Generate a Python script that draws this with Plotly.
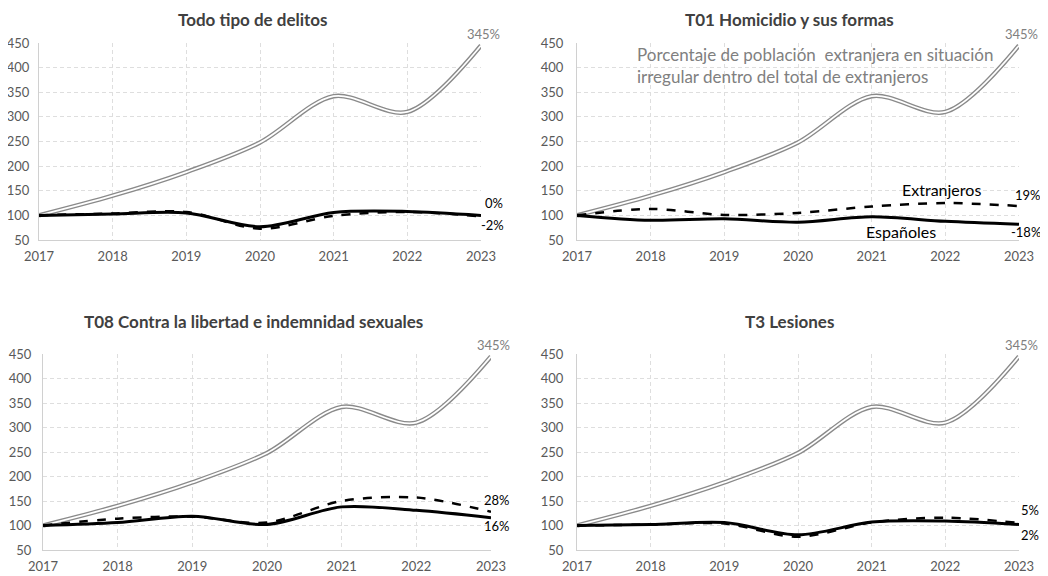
import plotly.graph_objects as go

years = [2017, 2018, 2019, 2020, 2021, 2022, 2023]
irregular = [100, 140, 188, 248, 342, 310, 445]

titles = ["Todo tipo de delitos", "T01 Homicidio y sus formas",
          "T08 Contra la libertad e indemnidad sexuales", "T3 Lesiones"]

extranjeros = [
    [100, 104, 107, 73, 99, 107, 98],
    [100, 113, 101, 105, 118, 125, 119],
    [100, 114, 118, 106, 150, 157, 128],
    [100, 102, 104, 77, 106, 116, 105],
]
espanoles = [
    [100, 103, 105, 77, 106, 108, 100],
    [100, 90, 93, 86, 97, 88, 82],
    [100, 106, 119, 102, 138, 131, 116],
    [100, 102, 106, 81, 107, 109, 102],
]
ext_labels = ["-2%", "19%", "28%", "5%"]
esp_labels = ["0%", "-18%", "16%", "2%"]
irr_label = "345%"
note_text = "Porcentaje de población  extranjera en situación<br>irregular dentro del total de extranjeros"

W, H = 1048, 576
OFF = 8  # page body margin


def px(x):
    return (x - OFF) / W


def py(y):
    return 1 - (y - OFF) / H


# pixel boxes for plot areas (screen coords): (x0, x1, ytop, ybottom)
boxes = [(39, 481, 43, 240), (577, 1019, 43, 240),
         (43, 491, 354, 550), (577, 1019, 354, 550)]
ystandoff = [6, 10, 8, 10]
# title anchor: (x, y, yanchor)
title_pos = [(253, 8, "top"), (789, 8, "top"), (253, 321, "middle"), (789, 321, "middle")]
esp_pos = [(494, 203), (1026, 232), (497, 526), (1030, 535)]
ext_pos = [(492, 225), (1028, 195), (497, 500), (1030, 510)]

FONT = "Lato, Open Sans, sans-serif"
fig = go.Figure()
tickfont = dict(family=FONT, size=13, color="#595959")
annotations = []

for i in range(4):
    x0, x1, yt, yb = boxes[i]
    sfx = "" if i == 0 else str(i + 1)
    xa, ya = "x" + sfx, "y" + sfx
    common = dict(xaxis=xa, yaxis=ya, mode="lines", hoverinfo="skip", showlegend=False)
    fig.add_trace(go.Scatter(x=years, y=irregular, line=dict(color="#8a8a8a", width=4.5, shape="spline", smoothing=0.9), **common))
    fig.add_trace(go.Scatter(x=years, y=irregular, line=dict(color="white", width=1.8, shape="spline", smoothing=0.9), **common))
    fig.add_trace(go.Scatter(x=years, y=espanoles[i], line=dict(color="black", width=3, shape="spline", smoothing=0.9), **common))
    fig.add_trace(go.Scatter(x=years, y=extranjeros[i], line=dict(color="black", width=2.5, dash="dash", shape="spline", smoothing=0.9), **common))

    fig.layout["xaxis" + sfx] = dict(
        domain=[px(x0), px(x1)], range=[2017, 2023], anchor=ya,
        tickvals=years, ticktext=[str(y) for y in years], tickfont=tickfont,
        showgrid=True, gridcolor="#dedede", griddash="4px,3px", gridwidth=1,
        showline=True, linecolor="#d0d0d0", linewidth=1, zeroline=False,
        ticks="", ticklabelstandoff=4, automargin=False, fixedrange=True)
    fig.layout["yaxis" + sfx] = dict(
        domain=[py(yb), py(yt)], range=[50, 450], anchor=xa,
        tickvals=[50, 100, 150, 200, 250, 300, 350, 400, 450], tickfont=tickfont,
        showgrid=True, gridcolor="#dedede", griddash="4px,3px", gridwidth=1,
        showline=True, linecolor="#d0d0d0", linewidth=1, zeroline=False,
        ticks="", ticklabelstandoff=ystandoff[i], automargin=False, fixedrange=True)

    tx, ty, tanc = title_pos[i]
    annotations.append(dict(text="<b>" + titles[i] + "</b>", x=px(tx), y=py(ty), xref="paper", yref="paper",
                            showarrow=False, font=dict(family=FONT, size=17, color="#404040"),
                            xanchor="center", yanchor=tanc, borderpad=0))
    annotations.append(dict(text=irr_label, x=2023, y=irregular[-1], xref=xa, yref=ya, showarrow=False,
                            xanchor="center", yanchor="bottom", yshift=1, xshift=2,
                            font=dict(family=FONT, size=13, color="#808080")))
    ex, ey = esp_pos[i]
    annotations.append(dict(text=esp_labels[i], x=px(ex), y=py(ey), xref="paper", yref="paper", showarrow=False,
                            xanchor="center", yanchor="middle",
                            font=dict(family=FONT, size=13, color="black")))
    ex, ey = ext_pos[i]
    annotations.append(dict(text=ext_labels[i], x=px(ex), y=py(ey), xref="paper", yref="paper", showarrow=False,
                            xanchor="center", yanchor="middle",
                            font=dict(family=FONT, size=13, color="black")))

annotations.append(dict(text="Extranjeros", x=px(941), y=py(189), xref="paper", yref="paper", showarrow=False,
                        xanchor="center", yanchor="middle",
                        font=dict(family=FONT, size=16, color="black")))
annotations.append(dict(text="Españoles", x=px(901), y=py(231), xref="paper", yref="paper", showarrow=False,
                        xanchor="center", yanchor="middle",
                        font=dict(family=FONT, size=16, color="black")))
annotations.append(dict(text=note_text, x=px(635), y=py(66), xref="paper", yref="paper", showarrow=False,
                        xanchor="left", yanchor="middle", align="left",
                        font=dict(family=FONT, size=17, color="#808080")))

fig.update_layout(width=W, height=H, margin=dict(l=0, r=0, t=0, b=0, autoexpand=False),
                  paper_bgcolor="white", plot_bgcolor="white",
                  annotations=annotations)

fig.write_html("out.html")
